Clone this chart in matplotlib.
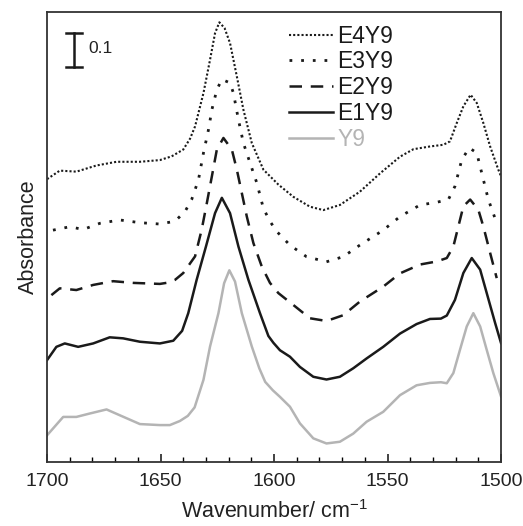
import matplotlib.pyplot as plt
from matplotlib.ticker import MultipleLocator

plt.rcParams['font.family'] = ['Liberation Sans', 'DejaVu Sans']

# spectra (wavenumber cm-1, absorbance)
y9_x = [1700, 1692.9, 1687.1, 1681.2, 1673.8, 1668.0, 1659.1, 1650.3, 1645.9, 1641.5,
        1638.0, 1635.0, 1631.1, 1628.2, 1624.5, 1622.0, 1619.7, 1617.2, 1614.2, 1609.8,
        1606.5, 1603.9, 1600.5, 1597.4, 1593.0, 1588.6, 1582.7, 1576.9, 1571.0, 1565.1,
        1559.2, 1551.9, 1544.5, 1537.2, 1531.3, 1526.5, 1523.9, 1521.0, 1518.1, 1515.1,
        1512.2, 1509.2, 1506.3, 1503.4, 1500]
y9_y = [0.078, 0.132, 0.132, 0.142, 0.154, 0.137, 0.111, 0.108, 0.108, 0.120,
        0.135, 0.160, 0.241, 0.339, 0.437, 0.525, 0.563, 0.530, 0.437, 0.339,
        0.275, 0.235, 0.210, 0.191, 0.162, 0.113, 0.069, 0.054, 0.059, 0.083,
        0.118, 0.147, 0.196, 0.225, 0.232, 0.234, 0.231, 0.261, 0.329, 0.398,
        0.437, 0.398, 0.329, 0.261, 0.192]

e1_x = [1700, 1695.9, 1692.2, 1686.3, 1679.7, 1672.4, 1666.5, 1659.1, 1650.3, 1644.4,
        1640.5, 1637.8, 1634.1, 1630.0, 1626.0, 1623.0, 1619.4, 1615.7, 1611.3, 1606.2,
        1602.5, 1600.3, 1597.4, 1593.0, 1588.6, 1582.7, 1576.9, 1571.0, 1565.1, 1559.2,
        1551.9, 1544.5, 1537.2, 1531.3, 1526.5, 1523.9, 1520.3, 1516.6, 1512.9, 1509.2,
        1506.3, 1502.6, 1500]
e1_y = [0.299, 0.338, 0.348, 0.338, 0.348, 0.366, 0.363, 0.353, 0.348, 0.356,
        0.385, 0.437, 0.535, 0.633, 0.731, 0.776, 0.731, 0.633, 0.535, 0.437,
        0.370, 0.350, 0.328, 0.309, 0.279, 0.250, 0.242, 0.250, 0.275, 0.304,
        0.338, 0.377, 0.405, 0.420, 0.421, 0.430, 0.476, 0.555, 0.599, 0.565,
        0.496, 0.408, 0.349]

e2_x = [1698.1, 1694.4, 1687.1, 1679.7, 1670.9, 1662.1, 1650.3, 1646.5, 1643.6, 1640.0,
        1634.8, 1631.9, 1629.6, 1627.4, 1625.2, 1622.3, 1618.6, 1616.4, 1614.2, 1612.0,
        1609.1, 1605.4, 1601.8, 1598.1, 1591.5, 1584.2, 1576.9, 1569.5, 1562.2, 1551.9,
        1544.5, 1535.7, 1528.3, 1523.9, 1521.0, 1518.8, 1516.6, 1513.6, 1510.0, 1507.8,
        1504.8, 1501.9]
e2_y = [0.490, 0.510, 0.505, 0.520, 0.531, 0.526, 0.523, 0.527, 0.535, 0.555,
        0.604, 0.682, 0.761, 0.839, 0.918, 0.952, 0.918, 0.859, 0.790, 0.721,
        0.643, 0.574, 0.526, 0.496, 0.461, 0.422, 0.414, 0.431, 0.471, 0.515,
        0.554, 0.580, 0.589, 0.599, 0.633, 0.692, 0.751, 0.771, 0.741, 0.692,
        0.614, 0.540]

e3_x = [1697.4, 1690.0, 1684.1, 1676.8, 1668.0, 1659.1, 1650.3, 1645.5, 1642.9, 1639.2,
        1636.3, 1633.3, 1631.1, 1628.9, 1627.4, 1625.2, 1623.0, 1619.4, 1617.9, 1615.7,
        1613.5, 1610.6, 1607.6, 1604.7, 1601.8, 1598.8, 1593.0, 1585.7, 1576.9, 1569.5,
        1562.2, 1551.9, 1544.5, 1535.7, 1528.3, 1523.2, 1520.3, 1517.3, 1514.0, 1510.7,
        1508.5, 1505.6, 1501.9]
e3_y = [0.681, 0.691, 0.683, 0.701, 0.711, 0.703, 0.699, 0.705, 0.712, 0.736,
        0.771, 0.829, 0.908, 0.976, 1.035, 1.094, 1.124, 1.114, 1.084, 1.006,
        0.937, 0.879, 0.820, 0.745, 0.707, 0.677, 0.637, 0.603, 0.588, 0.603,
        0.637, 0.681, 0.721, 0.755, 0.763, 0.771, 0.810, 0.888, 0.923, 0.908,
        0.849, 0.771, 0.702]

e4_x = [1700, 1694.4, 1687.1, 1678.3, 1669.4, 1659.1, 1650.3, 1645.1, 1640.0, 1637.0,
        1634.8, 1631.1, 1628.2, 1626.0, 1624.1, 1621.8, 1619.4, 1616.4, 1613.5, 1609.8,
        1604.7, 1598.1, 1591.5, 1584.2, 1578.3, 1571.0, 1562.2, 1553.3, 1544.5, 1538.6,
        1531.3, 1525.4, 1522.5, 1519.5, 1516.6, 1513.4, 1510.7, 1507.8, 1504.8, 1501.2,
        1500]
e4_y = [0.831, 0.856, 0.853, 0.871, 0.882, 0.882, 0.887, 0.898, 0.918, 0.950,
        0.986, 1.084, 1.182, 1.260, 1.292, 1.275, 1.231, 1.133, 1.035, 0.937,
        0.859, 0.815, 0.779, 0.750, 0.740, 0.755, 0.794, 0.848, 0.897, 0.919,
        0.927, 0.932, 0.942, 0.996, 1.045, 1.079, 1.055, 0.996, 0.927, 0.859,
        0.839]

fig = plt.figure(figsize=(5.23, 5.26), dpi=100)
ax = fig.add_axes([0.090, 0.122, 0.868, 0.855])

ax.plot(e4_x, e4_y, color='#1a1a1a', lw=1.5, ls=(0, (1, 1)), label='E4Y9')
ax.plot(e3_x, e3_y, color='#1a1a1a', lw=2.0, ls=(0, (1, 3.2)), label='E3Y9')
ax.plot(e2_x, e2_y, color='#1a1a1a', lw=1.8, ls=(0, (5, 3.5)), label='E2Y9')
ax.plot(e1_x, e1_y, color='#1a1a1a', lw=1.8, label='E1Y9')
ax.plot(y9_x, y9_y, color='#b4b4b4', lw=1.8, label='Y9')

# scale bar 0.1
ax.plot([1688.2, 1688.2], [1.162, 1.262], color='#1a1a1a', lw=1.8)
ax.plot([1691.8, 1684.6], [1.162, 1.162], color='#1a1a1a', lw=1.8)
ax.plot([1691.8, 1684.6], [1.262, 1.262], color='#1a1a1a', lw=1.8)
ax.text(1681.8, 1.215, '0.1', fontsize=12.5, va='center', ha='left', color='#222222')

ax.set_xlim(1700, 1500)
ax.set_ylim(0, 1.322)
ax.xaxis.set_major_locator(MultipleLocator(50))
ax.xaxis.set_minor_locator(MultipleLocator(10))
ax.tick_params(axis='x', which='major', direction='in', length=6, width=1.2,
               labelsize=14, pad=8, colors='#222222')
ax.tick_params(axis='x', which='minor', direction='in', length=3.5, width=1.0)
ax.set_yticks([])
for s in ax.spines.values():
    s.set_linewidth(1.3)
    s.set_color('#333333')

ax.set_xlabel('Wavenumber/ cm$^{\\mathregular{-1}}$', fontsize=15.5, labelpad=7, color='#222222')
ax.set_ylabel('Absorbance', fontsize=15.5, labelpad=6, color='#222222')

leg = ax.legend(loc='upper right', bbox_to_anchor=(0.79, 1.0), frameon=False,
                fontsize=16.5, handlelength=1.9, handletextpad=0.2, labelspacing=0.12,
                labelcolor='linecolor', borderaxespad=0.15)

fig.savefig('out.png', dpi=100)
